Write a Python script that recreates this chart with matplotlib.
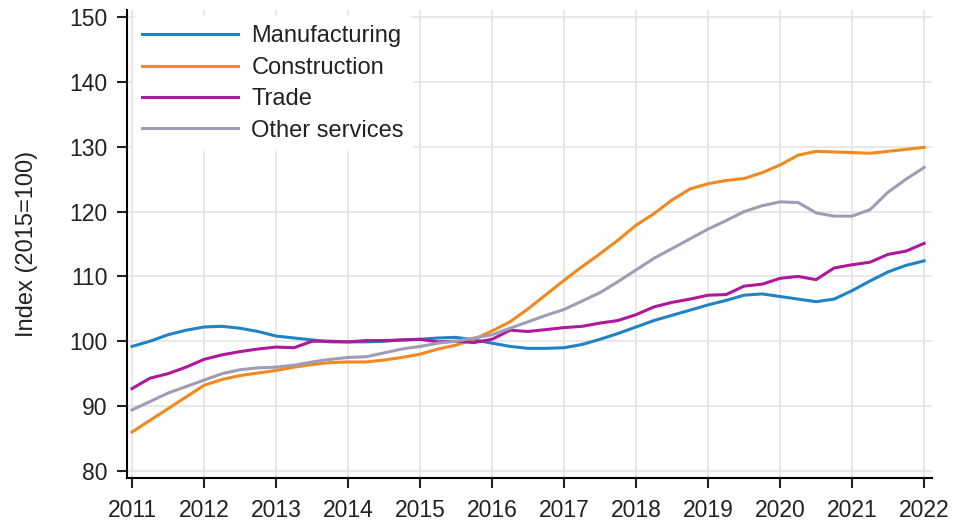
import numpy as np
import matplotlib.pyplot as plt

# quarterly readings, 2011 Q1 .. 2022 Q1
t = np.arange(2011, 2022.01, 0.25)

manufacturing = [99.2, 100.0, 101.0, 101.7, 102.2, 102.3, 102.0, 101.5, 100.8, 100.5,
                 100.2, 99.9, 99.9, 99.9, 100.0, 100.2, 100.3, 100.5, 100.6, 100.2,
                 99.7, 99.2, 98.9, 98.9, 99.0, 99.5, 100.3, 101.2, 102.2, 103.2,
                 104.0, 104.8, 105.6, 106.3, 107.1, 107.3, 106.9, 106.5, 106.1, 106.5,
                 107.8, 109.3, 110.7, 111.7, 112.4]
construction = [86.0, 87.8, 89.6, 91.4, 93.2, 94.1, 94.7, 95.1, 95.5, 96.0,
                96.4, 96.7, 96.8, 96.8, 97.1, 97.5, 98.0, 98.8, 99.4, 100.3,
                101.6, 103.0, 105.0, 107.2, 109.4, 111.5, 113.5, 115.6, 117.9, 119.7,
                121.8, 123.5, 124.3, 124.8, 125.1, 126.0, 127.2, 128.7, 129.3, 129.2,
                129.1, 129.0, 129.3, 129.6, 129.9]
trade = [92.7, 94.3, 95.0, 96.0, 97.2, 97.9, 98.4, 98.8, 99.1, 99.0,
         100.0, 100.0, 99.9, 100.1, 100.1, 100.2, 100.3, 99.9, 100.0, 99.8,
         100.3, 101.7, 101.5, 101.8, 102.1, 102.3, 102.8, 103.2, 104.1, 105.3,
         106.0, 106.5, 107.1, 107.2, 108.5, 108.8, 109.7, 110.0, 109.5, 111.3,
         111.8, 112.2, 113.4, 113.9, 115.1]
other_services = [89.4, 90.7, 92.0, 93.0, 94.0, 95.0, 95.6, 95.9, 96.0, 96.3,
                  96.8, 97.2, 97.5, 97.6, 98.2, 98.8, 99.2, 99.7, 100.0, 100.5,
                  101.0, 102.0, 103.0, 104.0, 104.9, 106.2, 107.5, 109.2, 111.0, 112.8,
                  114.3, 115.8, 117.3, 118.6, 120.0, 120.9, 121.5, 121.4, 119.8, 119.3,
                  119.3, 120.3, 123.0, 125.0, 126.8]

labels = ['Manufacturing', 'Construction', 'Trade', 'Other services']
colors = ['#1f84c4', '#f0891f', '#b0189b', '#9f9cb5']
years = list(range(2011, 2023))

plt.rcParams['font.family'] = ['Liberation Sans', 'DejaVu Sans']

fig = plt.figure(figsize=(9.55, 5.23), dpi=100)
ax = fig.add_axes([127/955, 45/523, 805/955, 468/523])

for s, lab, c in zip([manufacturing, construction, trade, other_services], labels, colors):
    ax.plot(t, s, color=c, lw=2.2, label=lab, solid_joinstyle='round')

ax.set_xlim(2010.93, 2022.11)
ax.set_ylim(78.9, 151.1)
ax.set_xticks(years)
ax.set_yticks(range(80, 151, 10))
ax.grid(True, color='#e6e6e6', lw=1.3)
ax.set_axisbelow(True)
for sp in ['top', 'right']:
    ax.spines[sp].set_visible(False)
for sp in ['left', 'bottom']:
    ax.spines[sp].set_linewidth(1.5)
ax.tick_params(length=7, width=1.5, labelsize=16.5, colors='#222222')
ax.tick_params(axis='x', pad=8)
ax.tick_params(axis='y', pad=7)
ax.set_ylabel('Index (2015=100)', fontsize=17, color='#222222')
ax.yaxis.set_label_coords(-0.111, 0.5)

leg = ax.legend(loc='upper left', bbox_to_anchor=(0.0, 1.0), fontsize=17,
                handlelength=4.07, handletextpad=0.55, labelspacing=0.4,
                frameon=True, facecolor='white', edgecolor='none', framealpha=1,
                borderaxespad=0.25)
for txt in leg.get_texts():
    txt.set_color('#222222')

fig.savefig('out.png', dpi=100)
